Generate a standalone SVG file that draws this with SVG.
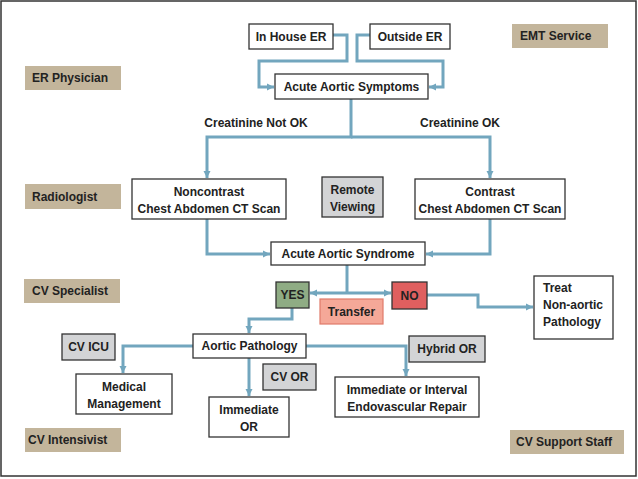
<svg xmlns="http://www.w3.org/2000/svg" width="638" height="479" viewBox="0 0 638 479">
<defs>
<style>
text{font-family:"Liberation Sans",Arial,sans-serif;font-weight:bold;font-size:12px;fill:#222;}
.c{text-anchor:middle;}
.box{fill:#fff;stroke:#333;stroke-width:1.3;}
.gray{fill:#d3d4d6;stroke:#333;stroke-width:1.3;}
.role{fill:#c3b59b;}
.conn path{fill:none;stroke:#72a6be;stroke-width:3;}
</style>
<marker id="ah" markerUnits="userSpaceOnUse" markerWidth="8" markerHeight="8" refX="7" refY="4" orient="auto">
<path d="M0,0.5 L7,4 L0,7.5 z" fill="#72a6be"/>
</marker>
</defs>
<rect x="0" y="0" width="638" height="479" fill="#fff"/>
<rect x="1" y="1" width="635" height="475" fill="none" stroke="#333" stroke-width="1.5"/>

<g class="conn" id="connectors">
<path d="M333,35 H347 V61 H259 V87 H274" marker-end="url(#ah)"/>
<path d="M370,35 H357 V61 H443 V87 H429" marker-end="url(#ah)"/>
<path d="M351,99 V137 H207 V178" marker-end="url(#ah)"/>
<path d="M351,137 H490 V178" marker-end="url(#ah)"/>
<path d="M207,219 V254 H270" marker-end="url(#ah)"/>
<path d="M490,219 V254 H426" marker-end="url(#ah)"/>
<path d="M347,265 V293"/>
<path d="M347,293 H310" marker-end="url(#ah)"/>
<path d="M347,293 H391" marker-end="url(#ah)"/>
<path d="M427,295 H478 V307 H533" marker-end="url(#ah)"/>
<path d="M292,308 V319 H249 V333" marker-end="url(#ah)"/>
<path d="M193,346 H123 V373" marker-end="url(#ah)"/>
<path d="M249,358 V396" marker-end="url(#ah)"/>
<path d="M306,346 H406 V376" marker-end="url(#ah)"/>
</g>

<g id="role-er-physician"><rect class="role" x="25" y="66" width="96" height="24"/><text x="32" y="82">ER Physician</text></g>
<g id="role-emt"><rect class="role" x="512" y="24" width="96" height="24"/><text x="520" y="40">EMT Service</text></g>
<g id="role-radiologist"><rect class="role" x="25" y="184" width="96" height="25"/><text x="32" y="201">Radiologist</text></g>
<g id="role-cv-specialist"><rect class="role" x="24" y="279" width="96" height="24"/><text x="32" y="295">CV Specialist</text></g>
<g id="role-cv-intensivist"><rect class="role" x="25" y="428" width="96" height="24"/><text x="28" y="444">CV Intensivist</text></g>
<g id="role-cv-support"><rect class="role" x="510" y="430" width="114" height="24"/><text x="516" y="446">CV Support Staff</text></g>

<g id="in-house-er"><rect class="box" x="249" y="24" width="84" height="25"/><text class="c" x="291" y="41">In House ER</text></g>
<g id="outside-er"><rect class="box" x="370" y="24" width="80" height="25"/><text class="c" x="410" y="41">Outside ER</text></g>
<g id="acute-aortic-symptoms"><rect class="box" x="275" y="74" width="153" height="25"/><text class="c" x="351.5" y="91">Acute Aortic Symptoms</text></g>

<g id="label-not-ok"><text class="c" x="256" y="127">Creatinine Not OK</text></g>
<g id="label-ok"><text class="c" x="460" y="127">Creatinine OK</text></g>

<g id="noncontrast"><rect class="box" x="132" y="179" width="154" height="40"/><text class="c" x="209" y="196">Noncontrast</text><text class="c" x="209" y="213">Chest Abdomen CT Scan</text></g>
<g id="remote-viewing"><rect class="gray" x="322" y="177" width="61" height="40"/><text class="c" x="352.5" y="194">Remote</text><text class="c" x="352.5" y="211">Viewing</text></g>
<g id="contrast"><rect class="box" x="415" y="179" width="150" height="40"/><text class="c" x="490" y="196">Contrast</text><text class="c" x="490" y="213">Chest Abdomen CT Scan</text></g>

<g id="acute-aortic-syndrome"><rect class="box" x="271" y="242" width="154" height="23"/><text class="c" x="348" y="258">Acute Aortic Syndrome</text></g>

<g id="yes"><rect x="276" y="282" width="33" height="26" fill="#8fac84" stroke="#333" stroke-width="1.3"/><text class="c" x="292.5" y="299">YES</text></g>
<g id="transfer"><rect x="320" y="299" width="63" height="25" fill="#f5a898" stroke="#e07b6a" stroke-width="1.2"/><text class="c" x="351.5" y="316">Transfer</text></g>
<g id="no"><rect x="392" y="282" width="35" height="27" fill="#df5f5f" stroke="#333" stroke-width="1.3"/><text class="c" x="409.5" y="300">NO</text></g>

<g id="treat-non-aortic"><rect class="box" x="534" y="276" width="79" height="63"/><text x="543" y="292">Treat</text><text x="543" y="309">Non-aortic</text><text x="543" y="326">Pathology</text></g>

<g id="aortic-pathology"><rect class="box" x="193" y="334" width="113" height="24"/><text class="c" x="249.5" y="350">Aortic Pathology</text></g>
<g id="cv-icu"><rect class="gray" x="62" y="334" width="53" height="26"/><text class="c" x="88.5" y="351">CV ICU</text></g>
<g id="cv-or"><rect class="gray" x="263" y="364" width="53" height="26"/><text class="c" x="289.5" y="381">CV OR</text></g>
<g id="hybrid-or"><rect class="gray" x="409" y="336" width="76" height="26"/><text class="c" x="447" y="353">Hybrid OR</text></g>

<g id="medical-management"><rect class="box" x="76" y="374" width="96" height="40"/><text class="c" x="124" y="391">Medical</text><text class="c" x="124" y="408">Management</text></g>
<g id="immediate-or"><rect class="box" x="209" y="397" width="80" height="40"/><text class="c" x="249" y="414">Immediate</text><text class="c" x="249" y="431">OR</text></g>
<g id="endovascular"><rect class="box" x="335" y="377" width="144" height="40"/><text class="c" x="407" y="394">Immediate or Interval</text><text class="c" x="407" y="411">Endovascular Repair</text></g>
</svg>
